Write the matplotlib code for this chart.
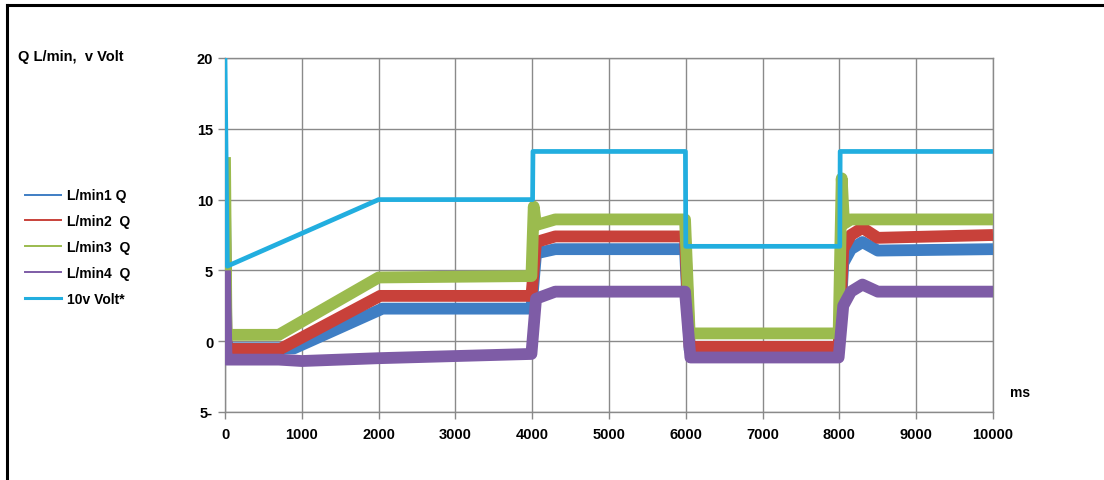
import matplotlib
matplotlib.use("Agg")
import matplotlib.pyplot as plt
from matplotlib.lines import Line2D

plt.rcParams['font.family'] = ['Liberation Sans', 'DejaVu Sans']
plt.rcParams['font.weight'] = 'bold'

# time breakpoints (ms) and values
t_volt = [0, 30, 2000, 4005, 4010, 5995, 6000, 8005, 8010, 10000]
v_volt = [20, 5.3, 10, 10, 13.4, 13.4, 6.7, 6.7, 13.4, 13.4]

t_q1 = [0, 20, 60, 900, 2050, 3990, 4050, 4300, 5990, 6050, 7990, 8050, 8150, 8300, 8500, 10000]
v_q1 = [9.5, -0.5, -0.5, -0.5, 2.3, 2.3, 6.2, 6.5, 6.5, -0.6, -0.6, 5.5, 6.5, 7.0, 6.4, 6.5]

t_q2 = [0, 20, 60, 720, 2020, 3990, 4050, 4300, 5990, 6050, 7990, 8050, 8150, 8300, 8500, 10000]
v_q2 = [8, -0.55, -0.55, -0.55, 3.2, 3.2, 7.0, 7.4, 7.4, -0.4, -0.4, 6.5, 7.5, 8.0, 7.3, 7.5]

t_q3 = [0, 20, 60, 700, 2000, 3990, 4020, 4050, 4300, 5990, 6050, 7990, 8030, 8060, 8150, 10000]
v_q3 = [13, 0.45, 0.45, 0.45, 4.5, 4.6, 9.5, 8.2, 8.6, 8.6, 0.55, 0.55, 11.5, 8.3, 8.6, 8.6]

t_q4 = [0, 20, 60, 700, 1000, 2000, 3990, 4050, 4300, 5990, 6060, 7990, 8050, 8150, 8300, 8500, 10000]
v_q4 = [5, -1.3, -1.3, -1.3, -1.4, -1.2, -0.9, 3.0, 3.5, 3.5, -1.15, -1.15, 2.5, 3.5, 4.0, 3.5, 3.5]

labels = ['L/min1 Q', 'L/min2  Q', 'L/min3  Q', 'L/min4  Q', '10v Volt*']
colors = ['#3F7EC4', '#C8413A', '#9BBB4E', '#7E5CA6', '#22AEDF']

x_ticks = list(range(0, 10001, 1000))
y_ticks = [-5, 0, 5, 10, 15, 20]
y_ticklabels = ['5-', '0', '5', '10', '15', '20']

fig = plt.figure(figsize=(11.04, 4.81), dpi=100)
ax = fig.add_axes([225 / 1104, 1 - 413 / 481, 768 / 1104, 354 / 481])

series = [(t_q1, v_q1), (t_q2, v_q2), (t_q3, v_q3), (t_q4, v_q4)]
for (t, v), c in zip(series, colors[:4]):
    ax.plot(t, v, color=c, lw=8.5, solid_joinstyle='round', solid_capstyle='butt', zorder=3)
ax.plot(t_volt, v_volt, color=colors[4], lw=3.4, zorder=4)

ax.set_xlim(0, 10000)
ax.set_ylim(-5, 20)
ax.set_xticks(x_ticks)
ax.set_xticklabels([str(x) for x in x_ticks])
ax.set_yticks(y_ticks)
ax.set_yticklabels(y_ticklabels)
ax.tick_params(axis='both', labelsize=10.5, colors='#888888', labelcolor='black', length=5, width=1)
ax.tick_params(axis='x', pad=6)
ax.grid(True, color='#8a8a8a', lw=1)
ax.set_axisbelow(True)
for s in ax.spines.values():
    s.set_color('#8a8a8a')
    s.set_linewidth(1)

ax.text(1.022, 0.045, 'ms', transform=ax.transAxes, fontsize=10, fontweight='bold')
fig.text(18 / 1104, 1 - 57 / 481, 'Q L/min,  v Volt', fontsize=10.5, fontweight='bold', va='center')

handles = [Line2D([], [], color=c, lw=1.4) for c in colors[:4]] + [Line2D([], [], color=colors[4], lw=2.2)]
fig.legend(handles, labels, loc='upper left', bbox_to_anchor=(12 / 1104, 1 - 177 / 481),
           frameon=False, fontsize=10, handlelength=2.6, handletextpad=0.45, labelspacing=0.85)

# outer frame (top and left edges visible)
fig.add_artist(Line2D([7 / 1104, 7 / 1104], [0, 1 - 6 / 481], color='black', lw=2.2))
fig.add_artist(Line2D([7 / 1104, 1], [1 - 6 / 481, 1 - 6 / 481], color='black', lw=2.2))

fig.savefig('out.png', dpi=100)
